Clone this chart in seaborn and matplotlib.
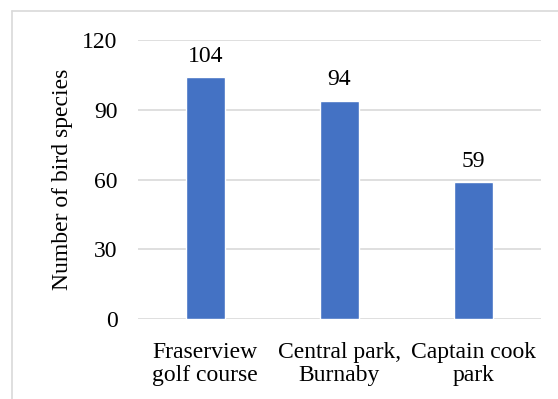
import matplotlib
matplotlib.use("Agg")
import matplotlib.pyplot as plt
from matplotlib.lines import Line2D
import seaborn as sns
import pandas as pd

sites = ["Fraserview\ngolf course", "Central park,\nBurnaby", "Captain cook\npark"]
species_counts = [104, 94, 59]
y_ticks = [0, 30, 60, 90, 120]

sns.set_theme(style="white")
plt.rcParams["font.family"] = ["Liberation Serif", "DejaVu Serif"]

df = pd.DataFrame({"site": sites, "count": species_counts})

W, H = 558, 399
fig = plt.figure(figsize=(W / 100, H / 100), dpi=100)
ax = fig.add_axes([138.3 / W, 1 - 319.3 / H, 402.4 / W, 279.3 / H])

sns.barplot(data=df, x="site", y="count", color="#4472C4", width=0.286,
            saturation=1, ax=ax, zorder=3)

ax.set_xlim(-0.5, 2.5)
ax.set_ylim(0, 120)
ax.set_yticks(y_ticks)
ax.yaxis.grid(True, color="#d9d9d9", linewidth=1.2, zorder=0)
ax.set_axisbelow(True)
for s in ax.spines.values():
    s.set_visible(False)
ax.tick_params(axis="both", length=0, labelsize=17, colors="black")
ax.tick_params(axis="y", pad=15)
ax.tick_params(axis="x", pad=16)
for lbl in ax.get_xticklabels():
    lbl.set_linespacing(1.15)

ax.set_xlabel("")
ax.set_ylabel("Number of bird species", fontsize=17, color="black")
ax.yaxis.set_label_coords((73 - 138.3) / 402.4, 0.5)

for i, v in enumerate(species_counts):
    ax.annotate(str(v), (i, v), xytext=(0, 11), textcoords="offset points",
                ha="center", va="baseline", fontsize=17, color="black")

# light frame around the chart area
fig.add_artist(Line2D([12.3 / W, 12.3 / W], [0, 1 - 11 / H],
                      transform=fig.transFigure, color="#d9d9d9", linewidth=1.2))
fig.add_artist(Line2D([12.3 / W, 1], [1 - 11 / H, 1 - 11 / H],
                      transform=fig.transFigure, color="#d9d9d9", linewidth=1.2))

fig.savefig("out.png", dpi=100, facecolor="white")
